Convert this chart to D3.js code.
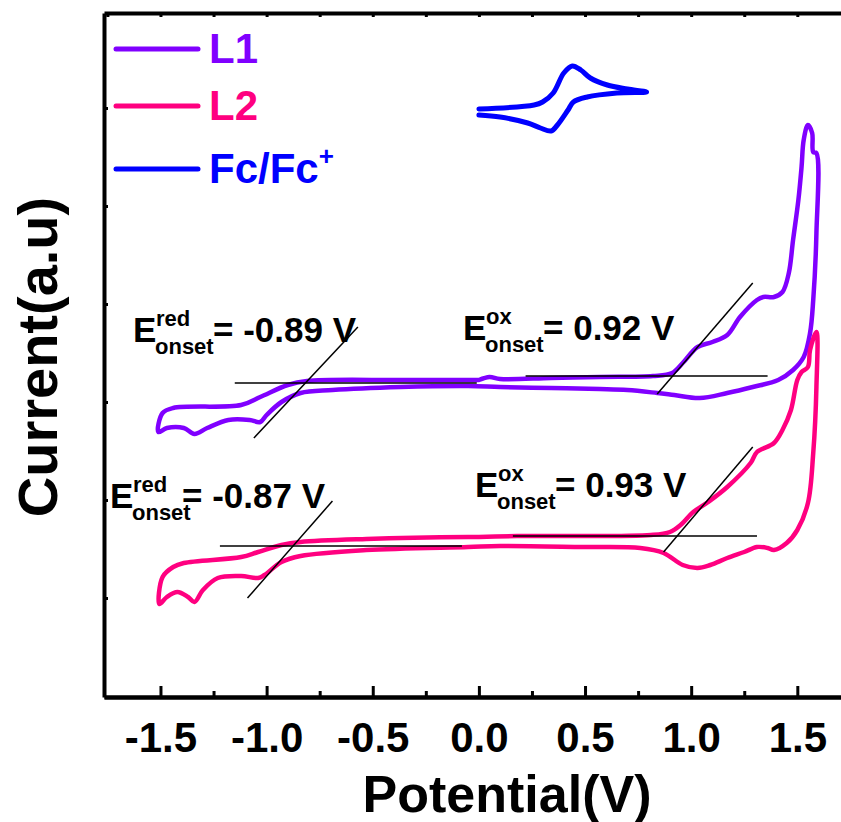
<!DOCTYPE html>
<html>
<head>
<meta charset="utf-8">
<script src="https://cdn.jsdelivr.net/npm/d3@7"></script>
<style>
body { margin: 0; background: #fff; }
text { font-family: "Liberation Sans", Arial, sans-serif; font-weight: bold; fill: #000; }
</style>
</head>
<body>
<div id="chart-area"></div>
<script>

// Data: potential (V) and current (a.u.)
var l1Potential = [0.00, 0.05, 0.10, 0.34, 0.57, 0.82, 0.91, 0.96, 1.03, 1.10, 1.17, 1.23, 1.31, 1.34, 1.39, 1.43, 1.46, 1.48, 1.505, 1.52,
    1.53, 1.55, 1.57, 1.575, 1.59, 1.59, 1.575, 1.56, 1.53, 1.48, 1.41, 1.29, 1.17, 1.04, 0.92, 0.84, 0.70, 0.57, 0.34, 0.10,
    -0.05, -0.37, -0.69, -0.84, -0.93, -1.00, -1.03, -1.08, -1.18, -1.28, -1.34, -1.39, -1.47, -1.51, -1.49, -1.44, -1.12, -1.03, -0.90, -0.81,
    -0.37, 0.00];
var l1Current = [3.17, 3.20, 3.18, 3.19, 3.20, 3.21, 3.24, 3.34, 3.50, 3.55, 3.62, 3.80, 3.97, 4.00, 4.00, 4.05, 4.24, 4.57, 4.97, 5.30,
    5.57, 5.72, 5.64, 5.45, 5.44, 4.64, 3.97, 3.64, 3.40, 3.27, 3.17, 3.10, 3.04, 2.99, 3.02, 3.04, 3.07, 3.08, 3.09, 3.10,
    3.11, 3.10, 3.07, 3.04, 2.95, 2.82, 2.75, 2.77, 2.77, 2.69, 2.63, 2.69, 2.69, 2.65, 2.84, 2.89, 2.92, 3.00, 3.12, 3.16,
    3.17, 3.17];

var l2Potential = [0.00, 0.18, 0.81, 0.90, 0.95, 1.01, 1.08, 1.17, 1.28, 1.31, 1.39, 1.43, 1.47, 1.50, 1.52, 1.55, 1.56, 1.59, 1.59, 1.575,
    1.55, 1.50, 1.45, 1.39, 1.36, 1.31, 1.25, 1.17, 1.09, 1.03, 0.96, 0.87, 0.76, 0.49, 0.10, -0.05, -0.53, -0.84, -0.93, -1.01,
    -1.04, -1.12, -1.23, -1.30, -1.34, -1.37, -1.42, -1.47, -1.505, -1.49, -1.44, -1.39, -1.12, -1.04, -0.93, -0.84, -0.53, -0.05, 0.00];
var l2Current = [1.60, 1.61, 1.62, 1.65, 1.72, 1.85, 1.95, 2.10, 2.34, 2.45, 2.54, 2.67, 2.87, 3.17, 3.25, 3.30, 3.47, 3.65, 3.10, 2.44,
    1.94, 1.67, 1.54, 1.47, 1.49, 1.50, 1.45, 1.39, 1.32, 1.29, 1.32, 1.44, 1.49, 1.50, 1.51, 1.50, 1.47, 1.41, 1.35, 1.22,
    1.19, 1.21, 1.19, 1.07, 0.95, 1.00, 1.05, 1.00, 0.93, 1.20, 1.30, 1.34, 1.40, 1.45, 1.52, 1.55, 1.58, 1.60, 1.60];

var fcPotential = [0.00, 0.26, 0.30, 0.35, 0.40, 0.44, 0.48, 0.525, 0.605, 0.70, 0.79, 0.65, 0.51, 0.445, 0.42, 0.37, 0.34, 0.29, 0.23, 0.10, 0.00];
var fcCurrent = [5.88, 5.92, 5.95, 6.04, 6.24, 6.31, 6.27, 6.19, 6.12, 6.08, 6.05, 6.04, 6.00, 5.95, 5.87, 5.72, 5.66, 5.69, 5.74, 5.80, 5.82];

// onset tangent lines: [start, end]
var tangentPotential = [[-1.15, -0.01], [-1.06, -0.57], [0.22, 1.36], [0.84, 1.29],
    [-1.22, -0.08], [-1.09, -0.69], [0.16, 1.31], [0.87, 1.29]];
var tangentCurrent = [[3.14, 3.14], [2.59, 3.70], [3.21, 3.21], [3.03, 4.14],
    [1.51, 1.51], [0.99, 1.96], [1.61, 1.61], [1.45, 2.50]];

var seriesNames = ["L1", "L2", "Fc/Fc"];
var seriesColors = ["#8000ff", "#ff0080", "#0000ff"];

var xTicks = [-1.5, -1.0, -0.5, 0.0, 0.5, 1.0, 1.5];
var xMinorTicks = [-1.25, -0.75, -0.25, 0.25, 0.75, 1.25, 1.75];
var xTopTicks = [-1.75, -1.5, -1.25, -1.0, -0.75, -0.5, -0.25, 0.0, 0.25, 0.5, 0.75, 1.0, 1.25, 1.5, 1.75];
var yTicks = [0.99, 1.97, 2.95, 3.93, 4.91, 5.89];

// onset annotations
var onsetSup = ["red", "ox", "red", "ox"];
var onsetValue = ["= -0.89 V", "= 0.92 V", "= -0.87 V", "= 0.93 V"];


// SVG drawing area
var margin = {top: 13, right: -20, bottom: 125, left: 104};

var width = 841 - margin.left - margin.right,
    height = 822 - margin.top - margin.bottom;

var svg = d3.select("#chart-area").append("svg")
    .attr("width", 841)
    .attr("height", 822)
  .append("g")
    .attr("transform", "translate(" + margin.left + "," + margin.top + ")");


// Scales
var x = d3.scaleLinear()
    .domain([-1.766, 1.8])
    .range([0, width]);

var y = d3.scaleLinear()
    .domain([0, 6.84])
    .range([height, 0]);


// Curves
var line = d3.line()
    .x(function(d) { return x(d[0]); })
    .y(function(d) { return y(d[1]); })
    .curve(d3.curveCatmullRom.alpha(0.5));

var curves = [
    d3.zip(l1Potential, l1Current),
    d3.zip(l2Potential, l2Current),
    d3.zip(fcPotential, fcCurrent)
];

svg.selectAll(".cv")
    .data(curves)
  .enter().append("path")
    .attr("class", "cv")
    .attr("d", line)
    .attr("fill", "none")
    .attr("stroke", function(d, i) { return seriesColors[i]; })
    .attr("stroke-width", function(d, i) { return i == 2 ? 5 : 4.5; })
    .attr("stroke-linejoin", "round")
    .attr("stroke-linecap", "round");


// Tangent lines
svg.selectAll(".tangent")
    .data(tangentPotential)
  .enter().append("line")
    .attr("class", "tangent")
    .attr("x1", function(d) { return x(d[0]); })
    .attr("x2", function(d) { return x(d[1]); })
    .attr("y1", function(d, i) { return y(tangentCurrent[i][0]); })
    .attr("y2", function(d, i) { return y(tangentCurrent[i][1]); })
    .attr("stroke", "#000")
    .attr("stroke-width", 1.5);


// Axes
var xAxis = d3.axisBottom(x)
    .tickValues(xTicks)
    .tickSize(-11)
    .tickSizeOuter(0)
    .tickPadding(25)
    .tickFormat(function(d) { return d.toFixed(1); });

var xMinor = d3.axisBottom(x)
    .tickValues(xMinorTicks)
    .tickSize(-6)
    .tickSizeOuter(0)
    .tickFormat("");

var xTop = d3.axisTop(x)
    .tickValues(xTopTicks)
    .tickSize(-4)
    .tickSizeOuter(0)
    .tickFormat("");

var yAxis = d3.axisLeft(y)
    .tickValues(yTicks)
    .tickSize(-4)
    .tickSizeOuter(0)
    .tickFormat("");

var gx = svg.append("g")
    .attr("class", "axis x-axis")
    .attr("transform", "translate(0," + height + ")")
    .call(xAxis);

gx.selectAll("text")
    .attr("dy", "0.71em")
    .style("font-size", "42px");

svg.append("g")
    .attr("class", "axis")
    .attr("transform", "translate(0," + height + ")")
    .call(xMinor);

svg.append("g")
    .attr("class", "axis")
    .call(xTop);

svg.append("g")
    .attr("class", "axis")
    .call(yAxis);

svg.selectAll(".axis path")
    .attr("stroke", "#000")
    .attr("stroke-width", 4);

svg.selectAll(".axis line")
    .attr("stroke", "#000")
    .attr("stroke-width", 3);


// Axis titles
svg.append("text")
    .attr("x", 403)
    .attr("y", height + 115)
    .attr("text-anchor", "middle")
    .style("font-size", "52px")
    .text("Potential(V)");

svg.append("text")
    .attr("transform", "translate(-47," + 344 + ")rotate(-90)")
    .attr("text-anchor", "middle")
    .style("font-size", "56px")
    .text("Current(a.u)");


// Legend
var legend = svg.selectAll(".legend")
    .data(seriesNames)
  .enter().append("g")
    .attr("class", "legend")
    .attr("transform", function(d, i) { return "translate(12," + [36, 93, 156][i] + ")"; });

legend.append("line")
    .attr("x1", 0)
    .attr("x2", 82)
    .attr("stroke", function(d, i) { return seriesColors[i]; })
    .attr("stroke-width", 5)
    .attr("stroke-linecap", "round");

var legendText = legend.append("text")
    .attr("x", 93)
    .attr("y", 14)
    .style("font-size", "42px")
    .style("fill", function(d, i) { return seriesColors[i]; })
    .text(function(d) { return d; });

legendText.filter(function(d, i) { return i == 2; })
    .append("tspan")
    .attr("dy", -18)
    .style("font-size", "26px")
    .text("+");


// Onset annotations (positions in px inside the plot)
var annoPos = [[29, 329], [359, 327], [6, 495], [371, 484]];

var anno = svg.selectAll(".anno")
    .data(onsetValue)
  .enter().append("g")
    .attr("class", "anno")
    .attr("transform", function(d, i) { return "translate(" + annoPos[i][0] + "," + annoPos[i][1] + ")"; });

anno.append("text")
    .style("font-size", "35px")
    .text("E");

anno.append("text")
    .attr("x", 23)
    .attr("y", -16)
    .style("font-size", "22px")
    .text(function(d, i) { return onsetSup[i]; });

anno.append("text")
    .attr("x", 22)
    .attr("y", 12)
    .style("font-size", "22px")
    .text("onset");

anno.append("text")
    .attr("x", function(d, i) { return i == 2 ? 72 : 80; })
    .style("font-size", "35px")
    .text(function(d) { return d; });

</script>
</body>
</html>
